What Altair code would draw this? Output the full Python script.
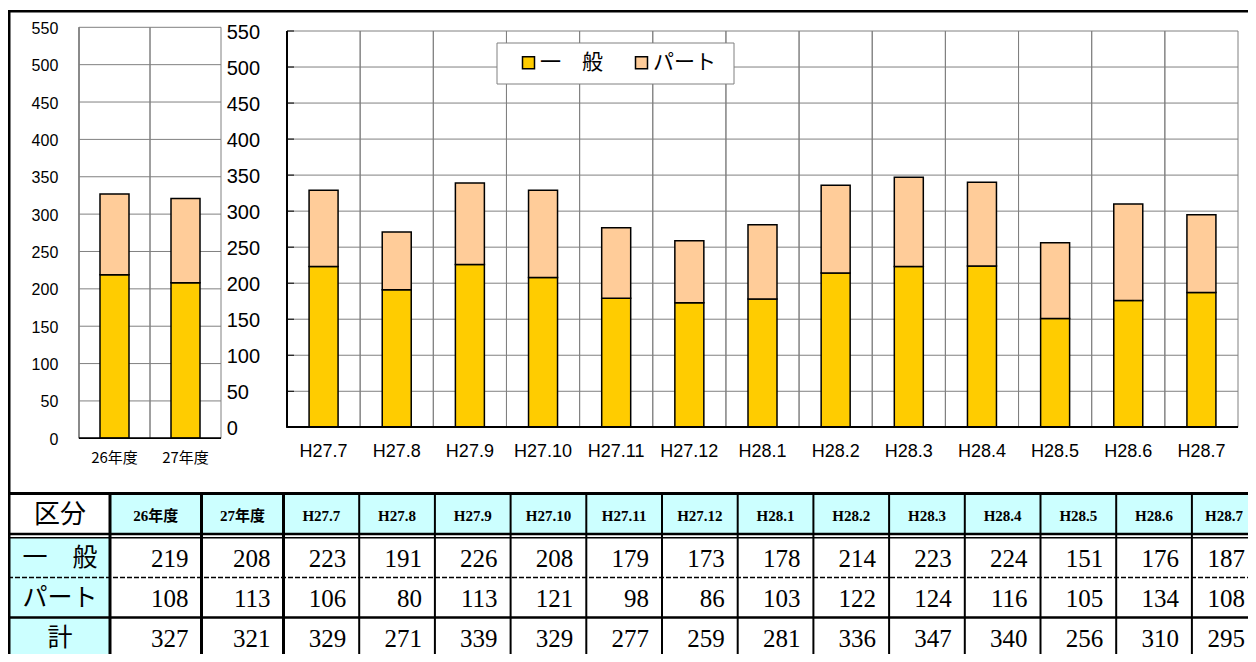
import altair as alt
import pandas as pd

# ---------------- data ----------------
years = ['26年度', '27年度']
months = ['H27.7', 'H27.8', 'H27.9', 'H27.10', 'H27.11', 'H27.12', 'H28.1',
          'H28.2', 'H28.3', 'H28.4', 'H28.5', 'H28.6', 'H28.7']
general = [219, 208, 223, 191, 226, 208, 179, 173, 178, 214, 223, 224, 151, 176, 187]
part = [108, 113, 106, 80, 113, 121, 98, 86, 103, 122, 124, 116, 105, 134, 108]
total = [327, 321, 329, 271, 339, 329, 277, 259, 281, 336, 347, 340, 256, 310, 295]
series = ['一　般', 'パート']
colors = ['#FFCC00', '#FFCC99']
yticks = [0, 50, 100, 150, 200, 250, 300, 350, 400, 450, 500, 550]
row_labels = ['一　般', 'パート', '計']
corner_label = '区分'

# ---------------- layout ----------------
W, H = 1240, 646
LX, LY = [71, 213], [430.3, 19.3]
RX, RY = [279, 1230], [419.3, 23]
col_edges = [0, 102, 193.5, 275.5] + [275.5 + 75.7 * k for k in range(1, 14)]
row_top, row_h = 529.5, 40
GRID = '#808080'
CJK = 'Noto Sans CJK JP'
SERIF = 'Liberation Serif, Noto Sans CJK JP'
SANS = 'Liberation Sans, Noto Sans CJK JP'
VAL_PAD = 13
last_w = col_edges[16] - col_edges[15]
# the last column is cut by the page edge: keep its texts inside the visible area
last_anchor = 15 + (W - 3 + VAL_PAD - col_edges[15]) / last_w
last_center = 15 + (W - 24 - col_edges[15]) / last_w

periods = years + months
recs = []
for i, p in enumerate(periods):
    recs.append({'period': p, 'series': series[0], 'value': general[i], 'ord': 0,
                 'panel': 'L' if p in years else 'R'})
    recs.append({'period': p, 'series': series[1], 'value': part[i], 'ord': 1,
                 'panel': 'L' if p in years else 'R'})
bars = pd.DataFrame(recs)
ticks_df = pd.DataFrame({'v': yticks})

legend = alt.Legend(orient='none', legendX=510, legendY=44, direction='horizontal',
                    title=None, symbolType='square', symbolSize=144,
                    symbolStrokeColor='black', symbolStrokeWidth=1.5,
                    labelFontSize=21, labelFont=CJK, labelColor='black',
                    labelOffset=1, columnPadding=28, padding=0)
color = alt.Color('series:N', scale=alt.Scale(domain=series, range=colors), legend=legend)


def panel(cats, xr, yr, pdata, ylab_x, ylab_size, ylab_align, xlab_y, xlab_size,
          xlab_font, left_color, tick_marks):
    xs = alt.Scale(domain=cats, range=xr, paddingInner=0, paddingOuter=0)
    ys = alt.Scale(domain=[0, 550], range=yr, nice=False, zero=False)
    cat_df = pd.DataFrame({'period': cats})
    layers = []
    layers.append(alt.Chart(ticks_df).mark_rule(color=GRID, strokeWidth=1).encode(
        y=alt.Y('v:Q', scale=ys, axis=None), x=alt.value(xr[0]), x2=alt.value(xr[1])))
    for bp in (0, 1):
        layers.append(alt.Chart(cat_df).mark_rule(color=GRID, strokeWidth=1).encode(
            x=alt.X('period:N', scale=xs, axis=None, bandPosition=bp),
            y=alt.value(yr[1]), y2=alt.value(yr[0])))
    layers.append(alt.Chart(cat_df).mark_rule(color=left_color, strokeWidth=1.2).encode(
        x=alt.value(xr[0]), y=alt.value(yr[1]), y2=alt.value(yr[0])))
    if tick_marks:
        layers.append(alt.Chart(ticks_df).mark_rule(color='black', strokeWidth=1).encode(
            y=alt.Y('v:Q', scale=ys, axis=None), x=alt.value(xr[0]), x2=alt.value(xr[0] + 7)))
    layers.append(alt.Chart(pdata).mark_bar(width=29, stroke='black', strokeWidth=1.5).encode(
        x=alt.X('period:N', scale=xs, axis=None, sort=cats),
        y=alt.Y('value:Q', scale=ys, axis=None, stack='zero'),
        color=color,
        order=alt.Order('ord:Q', sort='ascending')))
    layers.append(alt.Chart(cat_df).mark_rule(color='black', strokeWidth=1.5).encode(
        y=alt.value(yr[0]), x=alt.value(xr[0]), x2=alt.value(xr[1])))
    layers.append(alt.Chart(ticks_df).mark_text(
        align=ylab_align, baseline='middle', fontSize=ylab_size, font=SANS, dy=1.5,
        color='black').encode(
        x=alt.value(ylab_x), y=alt.Y('v:Q', scale=ys, axis=None), text='v:Q'))
    layers.append(alt.Chart(cat_df).mark_text(
        align='center', baseline='middle', fontSize=xlab_size, font=xlab_font,
        color='black').encode(
        x=alt.X('period:N', scale=xs, axis=None, bandPosition=0.5),
        y=alt.value(xlab_y), text='period:N'))
    return layers


layers = []
layers += panel(years, LX, LY, bars[bars.panel == 'L'], 50.3, 16, 'right', 449.5, 15,
                CJK, GRID, False)
layers += panel(months, RX, RY, bars[bars.panel == 'R'], 218.7, 20, 'left', 443.5, 18,
                SANS, 'black', True)

layers.append(alt.Chart(ticks_df.head(1)).mark_rect(
    fill='white', stroke=GRID, strokeWidth=1).encode(
    x=alt.value(489), x2=alt.value(726), y=alt.value(35), y2=alt.value(76)))

# ---------------- table ----------------
tx = alt.Scale(type='linear', domain=list(range(len(col_edges))), range=col_edges,
               nice=False, zero=False)
ty = alt.Scale(domain=[0, 3], range=[row_top, row_top + 3 * row_h], nice=False, zero=False)

head = pd.DataFrame({'label': periods,
                     'c0': list(range(1, 16)),
                     'c1': list(range(2, 17)),
                     'cm': [min(i + 0.5, last_center) for i in range(1, 16)]})
vals = []
for r, arr in enumerate([general, part, total]):
    for j, v in enumerate(arr):
        vals.append({'v': v, 'ce': min(j + 2, last_anchor), 'rm': r + 0.5})
vals = pd.DataFrame(vals)
rows = pd.DataFrame({'label': row_labels, 'rm': [0.5, 1.5, 2.5]})
vlines = pd.DataFrame({'k': list(range(1, 16)),
                       'w': [3 if k <= 3 else 2 for k in range(1, 16)]})

layers.append(alt.Chart(head).mark_rect(fill='#CCFFFF').encode(
    x=alt.X('c0:Q', scale=tx, axis=None), x2='c1:Q',
    y=alt.value(485.5), y2=alt.value(526)))
layers.append(alt.Chart(rows).mark_rect(fill='#CCFFFF').encode(
    x=alt.value(0), x2=alt.value(col_edges[1]),
    y=alt.value(row_top), y2=alt.value(H + 20)))

for yv, sw, dash in [(485.5, 3, None), (526, 2.5, None), (529.8, 1.5, None),
                     (row_top + row_h, 1.5, [5, 2]), (row_top + 2 * row_h, 2.5, None)]:
    kw = dict(color='black', strokeWidth=sw)
    if dash:
        kw['strokeDash'] = dash
    layers.append(alt.Chart(rows.head(1)).mark_rule(**kw).encode(
        x=alt.value(0), x2=alt.value(W + 20), y=alt.value(yv)))

layers.append(alt.Chart(vlines).mark_rule(color='black').encode(
    x=alt.X('k:Q', scale=tx, axis=None),
    y=alt.value(485.5), y2=alt.value(H + 20),
    strokeWidth=alt.StrokeWidth('w:Q', scale=None, legend=None)))

layers.append(alt.Chart(head).mark_text(
    font=SERIF, fontSize=15, fontWeight='bold', color='black', baseline='middle').encode(
    x=alt.X('cm:Q', scale=tx, axis=None), y=alt.value(508), text='label:N'))
layers.append(alt.Chart(vals).mark_text(
    font=SERIF, fontSize=25, color='black', align='right', baseline='middle',
    dx=-VAL_PAD, dy=1).encode(
    x=alt.X('ce:Q', scale=tx, axis=None),
    y=alt.Y('rm:Q', scale=ty, axis=None), text='v:Q'))
layers.append(alt.Chart(rows).mark_text(
    font=CJK, fontSize=25, color='black', baseline='middle', dy=0).encode(
    x=alt.value(52), y=alt.Y('rm:Q', scale=ty, axis=None), text='label:N'))
layers.append(alt.Chart(pd.DataFrame({'label': [corner_label]})).mark_text(
    font=CJK, fontSize=26, color='black', baseline='middle').encode(
    x=alt.value(52), y=alt.value(506.5), text='label:N'))

layers.append(alt.Chart(rows.head(1)).mark_rect(
    fillOpacity=0, stroke='black', strokeWidth=2.5).encode(
    x=alt.value(1.25), x2=alt.value(W + 50), y=alt.value(3.3), y2=alt.value(H + 50)))

chart = alt.layer(*layers).resolve_scale(
    x='independent', y='independent'
).properties(
    width=W, height=H, padding=0, background='white',
    autosize=alt.AutoSizeParams(type='none')
).configure_view(stroke=None)

chart.save('out.html', embed_options={'renderer': 'svg', 'actions': False})
